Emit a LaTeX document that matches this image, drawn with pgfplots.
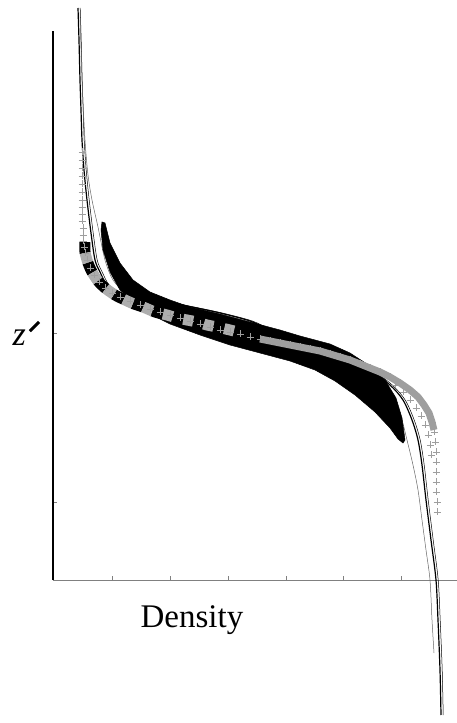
\documentclass[border=0pt]{standalone}
\usepackage{fontspec}
\setmainfont{Liberation Serif}
\usepackage{graphicx}
\usepackage{pgfplots}
\usepackage{pgfplotstable}
\pgfplotsset{compat=1.18}
\definecolor{lgray}{gray}{0.68}
\definecolor{cgray}{gray}{0.62}

% profile curves, x = density, y = z'
\pgfplotstableread{
x y
25 572
26 540
27 500
28 470
29 440
31 410
34 380
38 347
42 320
47 308
54 295
67 287
85 283
104 280
134 274
167 267
197 259
217 250
257 235
292 223
317 210
337 195
350 180
359 160
365 140
369 115
373 80
378 40
383 0
385 -40
387 -90
388 -135
}\mainprof

\pgfplotstableread{
x y
27 568
29 500
32 440
35 405
39 380
45 353
52 320
60 300
72 288
90 281
115 276
140 271
167 262
217 247
267 230
297 218
315 208
329 197
342 180
349 160
354 140
360 115
365 90
369 60
373 30
377 0
379 -40
381 -73
}\altprof

\begin{document}
\begin{tikzpicture}
\begin{axis}[
  width=404pt, height=549pt, scale only axis,
  xmin=0, xmax=404, ymin=0, ymax=549,
  clip=false,
  axis lines=left, axis line style={-},
  x axis line style={gray, line width=0.7pt},
  y axis line style={black, line width=2.4pt},
  xtick={59,117,175,233,290,348}, ytick={78,247},
  xticklabels={}, yticklabels={},
  tick align=inside, major tick length=4pt,
  tick style={gray, line width=0.6pt},
  xlabel={Density},
  xlabel style={at={(axis description cs:0.344,-0.0729)}, anchor=center,
                font=\fontsize{33}{36}\selectfont},
  ylabel={\textit{z}\kern3pt\raisebox{15pt}{\rotatebox{-45}{\rule{3pt}{13pt}}}},
  ylabel style={rotate=-90, at={(axis description cs:-0.066,0.45)}, anchor=center,
                font=\fontsize{34}{36}\selectfont},
]
% thin profile lines
\addplot[black, line width=1.2pt, smooth] table {\mainprof};
\addplot[black, line width=0.5pt, smooth] table[x expr=\thisrow{x}+2.2] {\mainprof};
\addplot[gray!80!black, line width=0.5pt, smooth] table {\altprof};

% thick black band
\addplot[fill=black, draw=black, line width=0.5pt] coordinates {
(49,358) (52,357) (57,337) (67,317) (80,300) (97,288) (117,280) (137,273)
(167,266) (197,258) (227,250) (247,244) (277,236) (297,227) (317,214)
(332,200) (343,182) (349,162) (352,140)
(350,137) (345,141) (337,152) (322,168) (302,185) (282,199) (262,210)
(237,219) (207,227) (177,235) (147,245) (117,256) (97,266) (82,277)
(67,290) (57,308) (50,330) (48,350) (49,358)} -- cycle;

% gray crosses
\addplot[cgray, line width=7pt] coordinates {
(207,241) (217,239) (227,237) (237,235) (247,233) (257,231) (267,229)
(277,226) (287,223) (297,220) (307,216) (317,212) (327,208) (337,203)
(347,197) (357,190) (365,183) (371,175) (376,167) (379,158) (381,150)};
\addplot[cgray, only marks, mark=+, mark size=3.5pt, mark options={line width=0.8pt}] coordinates {
(29,428) (29,420) (29,412) (29,404) (29,396) (29,388) (29,380) (29,373) (29,366)
(29,359) (30,352) (30,345) (30,339) (31,333) (32,327) (34,320) (37,312)
(41,305) (46,298) (52,292) (59,287) (67,283) (77,279) (87,275) (97,271)
(107,268) (117,265) (127,262) (137,259) (147,256) (157,253) (167,250)
(177,248) (187,246) (197,243) (207,241) (217,239) (227,237) (237,235)
(247,233) (257,231) (267,229) (277,226) (287,223) (297,220) (307,216)
(317,212) (327,208) (337,203) (347,197) (357,190) (365,183) (371,175)
(376,167) (379,158) (381,148) (382,138) (383,128) (383,118) (383,108)
(383,98) (383,88) (384,78) (384,68)
(342,195) (350,188) (357,180) (363,172) (368,164) (372,155) (375,145)
(377,135) (378,125)};

% dashed square series (black and gray alternating)
\addplot[black, line width=11pt, dash pattern=on 11pt off 10pt, smooth] coordinates {
(32,338) (32,328) (35,317) (39,308) (45,299) (52,292) (62,285) (72,280)
(81,276) (90,273) (102,268) (114,265) (124,262) (134,260) (144,258)
(154,255) (164,253) (177,250) (189,247)};
\addplot[lgray, line width=11pt, dash pattern=on 10pt off 11pt, dash phase=10pt, smooth] coordinates {
(32,338) (32,328) (35,317) (39,308) (45,299) (52,292) (62,285) (72,280)
(81,276) (90,273) (102,268) (114,265) (124,262) (134,260) (144,258)
(154,255) (164,253) (177,250) (189,247)};
\end{axis}
\pgfresetboundingbox
\path (-53pt,-143pt) rectangle (404pt,580pt);
\end{tikzpicture}
\end{document}
